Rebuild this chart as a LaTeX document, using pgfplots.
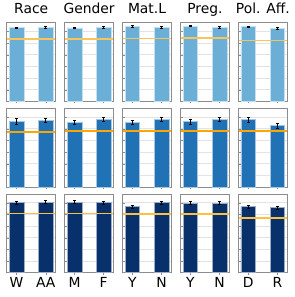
\documentclass[border=0pt]{standalone}
\usepackage{pgfplots}
\pgfplotsset{compat=1.18}
\usepgfplotslibrary{groupplots}
\usepackage{fontspec}
\setmainfont{DejaVu Sans}
\definecolor{rowA}{HTML}{6BAED6}
\definecolor{rowB}{HTML}{2171B5}
\definecolor{rowC}{HTML}{08306B}
\definecolor{orA}{HTML}{FBC45A}
\definecolor{orB}{HTML}{FFA500}
\definecolor{orC}{HTML}{FFC040}
\definecolor{frame}{HTML}{8C8C8C}
\newcommand{\panel}[7]{% color, orange color, y0, e0, y1, e1, base
  \addplot[ybar, bar width=0.5, fill=#1, draw=white!60!#1, line width=0.6pt,
    error bars/.cd, y dir=both, y explicit,
    error bar style={black, line width=0.7pt},
    error mark options={black, line width=0.7pt, mark size=1.5pt, rotate=90}]
    coordinates {(0,#3) +- (0,#4) (1,#5) +- (0,#6)};
  \addplot[#2, line width=1.7pt, no markers] coordinates {(-0.33,#7) (1.33,#7)};
}
\begin{document}
\begin{tikzpicture}
\begin{groupplot}[
  group style={group name=group, group size=5 by 3, horizontal sep=9.5pt, vertical sep=7pt},
  scale only axis, width=49pt, height=79.5pt,
  xmin=-0.33, xmax=1.33, ymin=0, ymax=0.675,
  axis line style={frame, line width=0.9pt},
  ytick={0.1,0.2,0.3,0.4,0.5,0.6}, yticklabels={},
  ymajorgrids, grid style={gray!22, line width=0.8pt},
  xtick={0,1}, xticklabels={},
  tick style={frame, line width=0.5pt},
  ytick align=inside, xtick align=outside, major tick length=2pt,
  tick pos=left,
  title style={at={(0.5,1)}, anchor=base, yshift=3pt, font=\fontsize{14}{16}\selectfont},
  xticklabel style={font=\fontsize{14}{16}\selectfont, anchor=north, inner sep=0pt, yshift=-2pt},
  axis on top=false,
]
\nextgroupplot[title={Race}] \panel{rowA}{orA}{0.632}{0.007}{0.632}{0.008}{0.533}
\nextgroupplot[title={Gender}] \panel{rowA}{orA}{0.630}{0.007}{0.632}{0.008}{0.533}
\nextgroupplot[title={Mat.L}] \panel{rowA}{orA}{0.641}{0.008}{0.632}{0.008}{0.541}
\nextgroupplot[title={Preg.}] \panel{rowA}{orA}{0.647}{0.007}{0.632}{0.008}{0.547}
\nextgroupplot[title={Pol. Aff.}] \panel{rowA}{orA}{0.641}{0.007}{0.627}{0.008}{0.524}
\nextgroupplot \panel{rowB}{orB}{0.564}{0.022}{0.570}{0.017}{0.470}
\nextgroupplot \panel{rowB}{orB}{0.556}{0.020}{0.579}{0.017}{0.479}
\nextgroupplot \panel{rowB}{orB}{0.556}{0.020}{0.579}{0.017}{0.481}
\nextgroupplot \panel{rowB}{orB}{0.561}{0.020}{0.579}{0.017}{0.481}
\nextgroupplot \panel{rowB}{orB}{0.579}{0.020}{0.527}{0.020}{0.479}
\nextgroupplot[xticklabels={W,AA}] \panel{rowC}{orC}{0.600}{0.012}{0.606}{0.012}{0.507}
\nextgroupplot[xticklabels={M,F}] \panel{rowC}{orC}{0.606}{0.012}{0.600}{0.011}{0.507}
\nextgroupplot[xticklabels={Y,N}] \panel{rowC}{orC}{0.567}{0.014}{0.600}{0.011}{0.504}
\nextgroupplot[xticklabels={Y,N}] \panel{rowC}{orC}{0.598}{0.012}{0.598}{0.011}{0.504}
\nextgroupplot[xticklabels={D,R}] \panel{rowC}{orC}{0.567}{0.013}{0.558}{0.013}{0.467}
\end{groupplot}
\path[use as bounding box] ([shift={(-7pt,20pt)}]group c1r1.north west) rectangle ++(297pt,-297pt);
\end{tikzpicture}
\end{document}
